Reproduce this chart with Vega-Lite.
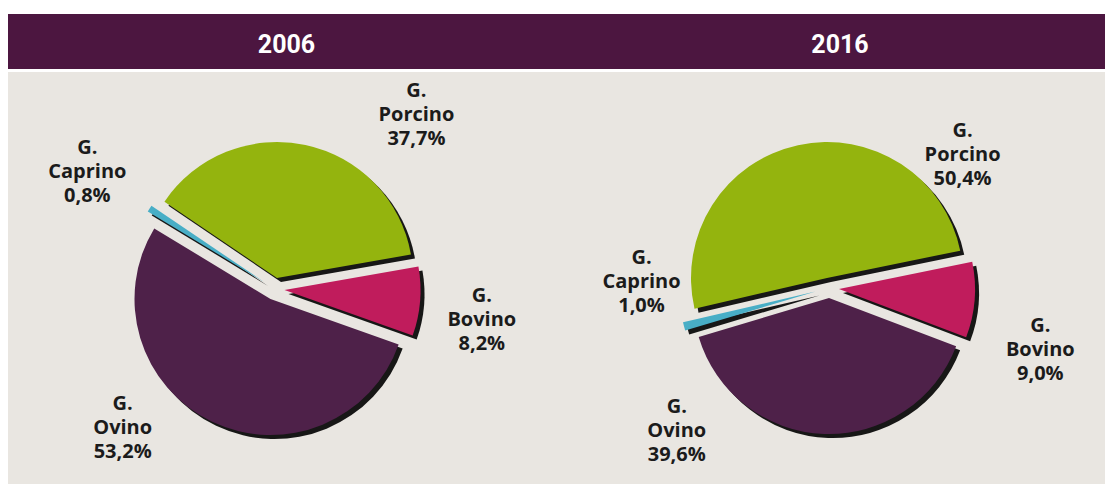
{
  "$schema": "https://vega.github.io/schema/vega-lite/v6.json",
  "autosize": {"type": "pad"},
  "padding": {"left": 8, "top": 14, "right": 0, "bottom": 0},
  "background": "#ffffff",
  "config": {"view": {"stroke": null}, "font": "Open Sans"},
  "datasets": {
    "y2006": [
      {"name": "Bovino", "pct": 8.2, "ord": 1, "label": "G.\nBovino\n8,2%"},
      {"name": "Ovino", "pct": 53.2, "ord": 2, "label": "G.\nOvino\n53,2%"},
      {"name": "Caprino", "pct": 0.8, "ord": 3, "label": "G.\nCaprino\n0,8%"},
      {"name": "Porcino", "pct": 37.7, "ord": 4, "label": "G.\nPorcino\n37,7%"}
    ],
    "y2016": [
      {"name": "Bovino", "pct": 9.0, "ord": 1, "label": "G.\nBovino\n9,0%"},
      {"name": "Ovino", "pct": 39.6, "ord": 2, "label": "G.\nOvino\n39,6%"},
      {"name": "Caprino", "pct": 1.0, "ord": 3, "label": "G.\nCaprino\n1,0%"},
      {"name": "Porcino", "pct": 50.4, "ord": 4, "label": "G.\nPorcino\n50,4%"}
    ]
  },
  "spacing": 3,
  "vconcat": [
    {
      "spacing": 0,
      "bounds": "flush",
      "hconcat": [
        {
          "width": 557, "height": 55,
          "data": {"values": [{"year": "2006"}]},
          "layer": [
            {"mark": {"type": "rect", "color": "#4C1640"}, "encoding": {}},
            {"mark": {"type": "text", "font": "Roboto", "fontWeight": "bold", "fontSize": 25, "color": "#ffffff", "baseline": "middle", "align": "center", "dy": 3, "clip": true}, "encoding": {"text": {"field": "year"}}}
          ]
        },
        {
          "width": 540, "height": 55,
          "data": {"values": [{"year": "2016"}]},
          "layer": [
            {"mark": {"type": "rect", "color": "#4C1640"}, "encoding": {}},
            {"mark": {"type": "text", "font": "Roboto", "fontWeight": "bold", "fontSize": 25, "color": "#ffffff", "baseline": "middle", "align": "center", "dy": 3, "dx": 5, "clip": true}, "encoding": {"text": {"field": "year"}}}
          ]
        }
      ]
    },
    {
      "spacing": 0,
      "bounds": "flush",
      "hconcat": [
        {
          "width": 557, "height": 412,
          "view": {"fill": "#E9E6E1", "stroke": null},
          "data": {"name": "y2006"},
          "encoding": {
            "theta": {"field": "pct", "type": "quantitative", "stack": true, "scale": {"domain": [0, 99.9], "range": [1.3963, 7.6795]}},
            "order": {"field": "ord", "type": "quantitative"},
            "detail": {"field": "name", "type": "nominal"}
          },
          "layer": [
            {"mark": {"type": "arc", "radius": 136, "fill": "#000000", "xOffset": 2, "yOffset": 16}, "encoding": {"fillOpacity": {"condition": {"test": "datum.ord === 1", "value": 0.9}, "value": 0}}},
            {"mark": {"type": "arc", "radius": 136, "fill": "#000000", "xOffset": -12, "yOffset": 25}, "encoding": {"fillOpacity": {"condition": {"test": "datum.ord === 2", "value": 0.9}, "value": 0}}},
            {"mark": {"type": "arc", "radius": 136, "fill": "#000000", "xOffset": -18.5, "yOffset": 8}, "encoding": {"fillOpacity": {"condition": {"test": "datum.ord === 3", "value": 0.9}, "value": 0}}},
            {"mark": {"type": "arc", "radius": 136, "fill": "#000000", "xOffset": -5.5, "yOffset": 4}, "encoding": {"fillOpacity": {"condition": {"test": "datum.ord === 4", "value": 0.9}, "value": 0}}},
            {"mark": {"type": "arc", "radius": 136, "xOffset": -2, "yOffset": 12}, "encoding": {"color": {"field": "name", "type": "nominal", "scale": {"domain": ["Porcino", "Bovino", "Ovino", "Caprino"], "range": ["#94B40E", "#C01C5C", "#4E2149", "#48AEC6"]}, "legend": null}, "fillOpacity": {"condition": {"test": "datum.ord === 1", "value": 1}, "value": 0}}},
            {"mark": {"type": "arc", "radius": 136, "xOffset": -16, "yOffset": 21}, "encoding": {"color": {"field": "name", "type": "nominal", "legend": null}, "fillOpacity": {"condition": {"test": "datum.ord === 2", "value": 1}, "value": 0}}},
            {"mark": {"type": "arc", "radius": 136, "xOffset": -22.5, "yOffset": 4}, "encoding": {"color": {"field": "name", "type": "nominal", "legend": null}, "fillOpacity": {"condition": {"test": "datum.ord === 3", "value": 1}, "value": 0}}},
            {"mark": {"type": "arc", "radius": 136, "xOffset": -9.5, "yOffset": 0}, "encoding": {"color": {"field": "name", "type": "nominal", "legend": null}, "fillOpacity": {"condition": {"test": "datum.ord === 4", "value": 1}, "value": 0}}},
            {"mark": {"type": "text", "clip": true, "radius": 200, "dx": -4, "dy": 1, "fontSize": 20, "fontWeight": "bold", "lineBreak": "\n", "lineHeight": 24, "align": "center", "baseline": "middle", "color": "#1b1b1b"}, "encoding": {"text": {"condition": {"test": "datum.ord === 1", "field": "label"}, "value": ""}}},
            {"mark": {"type": "text", "clip": true, "radius": 200, "dx": -78, "dy": -55, "fontSize": 20, "fontWeight": "bold", "lineBreak": "\n", "lineHeight": 24, "align": "center", "baseline": "middle", "color": "#1b1b1b"}, "encoding": {"text": {"condition": {"test": "datum.ord === 2", "field": "label"}, "value": ""}}},
            {"mark": {"type": "text", "clip": true, "radius": 226, "dx": -9, "dy": -8, "fontSize": 20, "fontWeight": "bold", "lineBreak": "\n", "lineHeight": 24, "align": "center", "baseline": "middle", "color": "#1b1b1b"}, "encoding": {"text": {"condition": {"test": "datum.ord === 3", "field": "label"}, "value": ""}}},
            {"mark": {"type": "text", "clip": true, "radius": 210, "dx": 86, "dy": 18, "fontSize": 20, "fontWeight": "bold", "lineBreak": "\n", "lineHeight": 24, "align": "center", "baseline": "middle", "color": "#1b1b1b"}, "encoding": {"text": {"condition": {"test": "datum.ord === 4", "field": "label"}, "value": ""}}}
          ]
        },
        {
          "width": 540, "height": 412,
          "view": {"fill": "#E9E6E1", "stroke": null},
          "data": {"name": "y2016"},
          "encoding": {
            "theta": {"field": "pct", "type": "quantitative", "stack": true, "scale": {"domain": [0, 100], "range": [1.3683, 7.6515]}},
            "order": {"field": "ord", "type": "quantitative"},
            "detail": {"field": "name", "type": "nominal"}
          },
          "layer": [
            {"mark": {"type": "arc", "radius": 136, "fill": "#000000", "xOffset": 8, "yOffset": 15}, "encoding": {"fillOpacity": {"condition": {"test": "datum.ord === 1", "value": 0.9}, "value": 0}}},
            {"mark": {"type": "arc", "radius": 136, "fill": "#000000", "xOffset": -2, "yOffset": 24}, "encoding": {"fillOpacity": {"condition": {"test": "datum.ord === 2", "value": 0.9}, "value": 0}}},
            {"mark": {"type": "arc", "radius": 136, "fill": "#000000", "xOffset": -15.5, "yOffset": 17.5}, "encoding": {"fillOpacity": {"condition": {"test": "datum.ord === 3", "value": 0.9}, "value": 0}}},
            {"mark": {"type": "arc", "radius": 136, "fill": "#000000", "xOffset": -4, "yOffset": 4}, "encoding": {"fillOpacity": {"condition": {"test": "datum.ord === 4", "value": 0.9}, "value": 0}}},
            {"mark": {"type": "arc", "radius": 136, "xOffset": 4, "yOffset": 11}, "encoding": {"color": {"field": "name", "type": "nominal", "scale": {"domain": ["Porcino", "Bovino", "Ovino", "Caprino"], "range": ["#94B40E", "#C01C5C", "#4E2149", "#48AEC6"]}, "legend": null}, "fillOpacity": {"condition": {"test": "datum.ord === 1", "value": 1}, "value": 0}}},
            {"mark": {"type": "arc", "radius": 136, "xOffset": -6, "yOffset": 20}, "encoding": {"color": {"field": "name", "type": "nominal", "legend": null}, "fillOpacity": {"condition": {"test": "datum.ord === 2", "value": 1}, "value": 0}}},
            {"mark": {"type": "arc", "radius": 136, "xOffset": -19.5, "yOffset": 13.5}, "encoding": {"color": {"field": "name", "type": "nominal", "legend": null}, "fillOpacity": {"condition": {"test": "datum.ord === 3", "value": 1}, "value": 0}}},
            {"mark": {"type": "arc", "radius": 136, "xOffset": -8, "yOffset": 0}, "encoding": {"color": {"field": "name", "type": "nominal", "legend": null}, "fillOpacity": {"condition": {"test": "datum.ord === 4", "value": 1}, "value": 0}}},
            {"mark": {"type": "text", "clip": true, "radius": 210, "dx": -4, "dy": 31, "fontSize": 20, "fontWeight": "bold", "lineBreak": "\n", "lineHeight": 24, "align": "center", "baseline": "middle", "color": "#1b1b1b"}, "encoding": {"text": {"condition": {"test": "datum.ord === 1", "field": "label"}, "value": ""}}},
            {"mark": {"type": "text", "clip": true, "radius": 200, "dx": -151, "dy": -71, "fontSize": 20, "fontWeight": "bold", "lineBreak": "\n", "lineHeight": 24, "align": "center", "baseline": "middle", "color": "#1b1b1b"}, "encoding": {"text": {"condition": {"test": "datum.ord === 2", "field": "label"}, "value": ""}}},
            {"mark": {"type": "text", "clip": true, "radius": 195, "dx": -5, "dy": -70, "fontSize": 20, "fontWeight": "bold", "lineBreak": "\n", "lineHeight": 24, "align": "center", "baseline": "middle", "color": "#1b1b1b"}, "encoding": {"text": {"condition": {"test": "datum.ord === 3", "field": "label"}, "value": ""}}},
            {"mark": {"type": "text", "clip": true, "radius": 180, "dx": 166, "dy": 29, "fontSize": 20, "fontWeight": "bold", "lineBreak": "\n", "lineHeight": 24, "align": "center", "baseline": "middle", "color": "#1b1b1b"}, "encoding": {"text": {"condition": {"test": "datum.ord === 4", "field": "label"}, "value": ""}}}
          ]
        }
      ]
    }
  ]
}
